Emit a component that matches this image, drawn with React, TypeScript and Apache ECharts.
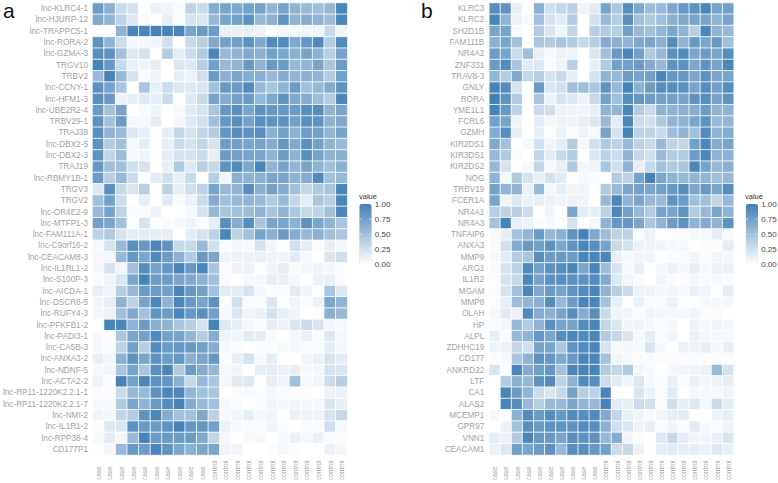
import React, { useEffect, useRef } from "react";
import * as echarts from "echarts";

const sampleLabels = [
  "case","case","case","case","case","case","case","case","case","case",
  "control","control","control","control","control","control","control","control","control","control","control","control",
];
const legendTicks = ["1.00", "0.75", "0.50", "0.25", "0.00"];

const genesA = [
  "lnc-KLRC4-1","lnc-HJURP-12","lnc-TRAPPC5-1","lnc-RORA-2","lnc-GZMA-3","TRGV10","TRBV2","lnc-CCNY-1","lnc-HFM1-3","lnc-UBE2R2-4",
  "TRBV29-1","TRAJ38","lnc-DBX2-5","lnc-DBX2-3","TRAJ19","lnc-RBMY1B-1","TRGV3","TRGV2","lnc-OR4E2-9","lnc-MTFP1-3",
  "lnc-FAM111A-1","lnc-C9orf16-2","lnc-CEACAM8-3","lnc-IL1RL1-2","lnc-S100P-3","lnc-AICDA-1","lnc-DSCR8-5","lnc-RUFY4-3","lnc-PFKFB1-2","lnc-PADI3-1",
  "lnc-CA5B-3","lnc-ANXA3-2","lnc-NDNF-5","lnc-ACTA2-2","lnc-RP11-1220K2.2.1-1","lnc-RP11-1220K2.2.1-7","lnc-NMI-2","lnc-IL1R1-2","lnc-RPP38-4","CD177P1",
];

const genesB = [
  "KLRC3","KLRC2","SH2D1B","FAM111B","NR4A2","ZNF331","TRAV8-3","GNLY","RORA","YME1L1",
  "FCRL6","GZMH","KIR2DS1","KIR3DS1","KIR2DS2","NOG","TRBV19","FCER1A","NR4A1","NR4A3",
  "TNFAIP6","ANXA3","MMP9","ARG1","IL1R2","MGAM","MMP8","OLAH","HP","ALPL",
  "ZDHHC19","CD177","ANKRD22","LTF","CA1","ALAS2","MCEMP1","GPR97","VNN1","CEACAM1",
];

// values in percent of the colour scale, one list per row
const valuesA = [
  [78,62,28,24,0,10,8,3,35,28,65,72,68,75,72,58,72,60,55,50,55,95],
  [68,58,35,18,3,0,12,3,22,20,55,72,75,85,55,62,85,60,65,60,52,95],
  [0,0,60,95,95,98,98,95,70,78,78,12,12,12,10,0,6,5,8,8,30,8],
  [85,60,28,6,6,8,25,0,30,38,68,75,75,85,68,92,92,68,82,92,40,92],
  [88,85,50,18,22,0,40,15,28,42,95,55,60,68,62,75,68,62,72,60,38,72],
  [98,80,30,12,8,12,0,20,18,38,75,55,60,80,60,80,78,55,58,70,45,78],
  [55,98,55,22,3,8,0,12,10,25,78,62,70,65,62,55,65,58,62,60,40,75],
  [85,72,45,0,45,12,28,18,18,20,50,80,78,92,55,45,60,78,50,55,65,85],
  [88,80,10,12,18,14,28,0,18,30,72,65,75,78,55,68,85,68,65,52,40,95],
  [78,48,72,0,4,8,0,4,15,22,45,82,88,72,85,82,80,78,90,90,60,70],
  [85,48,78,5,5,14,0,6,18,25,50,82,88,75,88,85,85,75,88,85,60,68],
  [88,60,55,18,12,0,14,32,22,32,40,82,90,85,88,62,75,62,78,75,58,72],
  [85,40,50,4,14,0,13,28,22,32,22,78,75,72,72,65,82,68,88,75,60,55],
  [85,32,52,4,8,0,14,22,22,28,12,78,75,72,70,60,78,60,88,72,60,62],
  [80,50,50,25,22,0,12,42,18,38,30,85,92,70,95,60,72,58,72,60,50,62],
  [78,38,55,28,0,15,25,12,30,0,38,7,62,60,62,70,72,60,65,92,50,55],
  [18,88,30,20,38,0,35,12,25,35,72,55,60,88,62,75,65,50,32,42,45,95],
  [50,75,28,0,12,0,15,3,10,28,65,50,55,58,55,42,55,32,15,45,38,95],
  [55,72,35,3,3,10,0,0,5,22,55,45,50,52,58,45,58,45,30,35,50,95],
  [75,70,50,0,22,0,3,5,8,3,14,88,65,90,45,70,70,62,85,70,60,45],
  [35,42,22,15,14,14,14,0,14,22,35,95,35,48,72,62,78,65,55,62,50,45],
  [4,22,55,88,80,95,85,30,30,55,25,3,6,4,22,8,0,25,15,3,12,6],
  [6,6,55,80,70,92,78,62,40,80,70,7,10,10,12,8,7,15,5,0,20,25],
  [6,22,8,50,90,72,82,95,82,95,45,2,10,10,0,8,14,3,6,8,6,3],
  [3,8,20,70,98,78,78,70,68,62,50,2,0,4,5,12,10,5,0,10,12,3],
  [14,8,38,55,78,78,75,95,80,75,50,15,15,22,6,2,2,15,7,0,45,18],
  [7,14,60,35,72,95,60,95,80,72,85,3,25,3,3,20,0,8,3,10,70,60],
  [6,10,50,68,50,85,78,95,82,88,75,4,20,8,10,22,13,8,0,2,62,55],
  [0,98,95,60,78,62,60,45,38,22,98,18,12,5,2,12,10,20,28,20,6,4],
  [5,2,45,70,75,92,75,72,58,40,65,8,7,15,13,3,0,6,10,3,18,5],
  [5,2,35,75,38,92,80,82,80,75,65,4,2,0,2,2,4,5,2,2,14,5],
  [12,7,62,85,70,85,78,82,62,70,80,2,12,22,4,13,0,0,7,10,22,15],
  [4,7,45,72,45,88,95,42,78,65,55,5,7,0,14,14,10,12,4,6,22,20],
  [10,2,98,75,95,85,82,62,30,55,45,6,17,18,0,13,8,50,4,7,28,38],
  [2,2,28,55,55,85,95,95,58,50,45,0,3,3,2,6,3,3,2,0,10,10],
  [4,5,42,70,60,80,92,98,65,55,50,4,3,0,2,7,6,7,5,5,20,12],
  [8,6,32,40,85,95,65,50,50,68,35,4,7,13,6,8,0,10,8,8,22,30],
  [2,18,20,85,80,78,85,98,82,82,75,10,4,3,2,7,2,0,2,2,25,5],
  [4,15,6,55,98,78,80,78,78,68,32,6,0,4,5,0,4,10,5,10,3,3],
  [1,6,55,80,78,95,85,70,62,70,70,7,7,0,0,2,5,2,0,0,10,6],
];

const valuesB = [
  [90,85,12,0,62,25,32,35,8,15,72,45,90,68,52,55,70,80,85,95,72,75],
  [95,60,10,4,50,22,15,40,0,25,55,40,88,50,42,50,62,68,70,72,60,72],
  [70,72,4,0,40,20,8,32,0,38,42,38,75,55,50,58,70,60,38,95,60,55],
  [62,72,50,0,45,40,45,40,30,38,65,62,60,68,72,62,90,60,80,70,80,50],
  [78,72,28,50,12,4,10,10,0,20,50,80,95,75,42,55,85,92,70,78,70,90],
  [78,92,45,15,18,3,8,38,0,12,42,75,75,78,65,55,85,85,70,85,72,95],
  [58,40,68,30,38,22,30,12,0,22,60,55,78,72,75,95,82,82,70,85,70,72],
  [98,90,22,0,78,20,25,50,52,45,85,55,98,62,78,90,90,88,72,90,75,90],
  [100,85,42,0,45,10,22,18,10,30,75,50,90,82,78,75,75,72,85,90,72,85],
  [98,80,35,0,28,25,10,8,8,12,60,58,95,40,30,60,60,62,65,78,60,60],
  [75,72,10,0,14,5,8,8,12,18,55,15,95,28,25,42,58,60,72,85,55,58],
  [65,88,13,0,12,0,10,2,8,4,72,22,98,35,35,28,52,60,50,92,60,65],
  [68,50,0,4,25,8,14,40,5,25,42,35,55,35,30,55,35,32,75,95,65,72],
  [55,42,2,0,32,15,30,42,0,20,35,28,60,30,25,55,40,42,78,95,60,62],
  [55,22,0,4,32,4,12,42,6,8,45,25,60,12,30,50,42,45,95,72,55,62],
  [60,5,42,22,12,22,16,0,5,3,0,40,35,72,98,70,60,55,58,58,50,55],
  [75,58,60,12,55,6,13,8,8,0,42,55,70,75,70,75,80,90,70,80,70,90],
  [72,8,18,10,12,10,8,10,8,0,55,95,60,72,55,55,85,78,50,50,32,55],
  [38,35,38,28,0,8,0,70,15,12,35,95,75,55,40,72,70,85,40,55,70,60],
  [48,98,12,10,3,4,2,22,0,6,60,82,80,70,45,60,78,85,60,65,60,85],
  [4,12,48,58,78,55,62,85,98,68,52,35,35,3,10,0,3,3,5,4,15,3],
  [3,25,65,80,75,85,70,85,95,90,72,30,22,10,8,7,5,5,0,2,3,13],
  [4,15,40,45,88,78,80,78,95,95,95,12,4,7,8,0,3,3,7,3,7,5],
  [3,22,35,92,75,85,90,95,70,95,52,22,4,12,0,5,10,5,12,5,10,10],
  [2,22,30,95,72,85,88,88,85,92,68,20,8,3,0,7,3,2,6,3,5,3],
  [2,22,50,95,68,78,72,85,92,95,60,38,28,10,10,5,7,4,10,7,0,14],
  [2,12,52,58,62,90,55,78,95,95,48,12,0,10,3,3,10,0,0,5,5,6],
  [5,15,10,92,65,62,72,90,65,90,30,8,7,3,7,6,6,6,8,2,3,0],
  [2,6,55,40,60,88,72,72,92,95,32,20,7,8,5,3,5,0,8,5,8,6],
  [12,3,55,60,82,72,90,95,92,95,42,32,20,5,13,3,7,0,10,5,5,5],
  [8,10,32,25,72,72,45,85,92,95,22,5,6,5,20,5,0,10,10,12,6,12],
  [2,4,45,60,85,82,68,80,95,95,48,8,4,3,3,3,3,2,2,2,2,2],
  [20,2,95,65,75,82,48,95,95,98,42,32,40,7,4,0,6,7,7,10,55,22],
  [0,40,62,55,85,92,35,60,92,90,28,15,8,20,5,3,12,3,10,6,10,12],
  [0,95,78,60,28,20,30,75,38,35,98,0,0,20,10,3,15,0,5,5,5,8],
  [0,98,90,55,38,55,55,70,58,55,98,15,12,28,25,3,25,12,18,5,28,15],
  [5,1,62,92,78,90,80,92,90,92,68,32,12,8,3,7,13,15,0,0,8,12],
  [0,10,50,88,78,85,85,85,92,90,62,25,20,8,12,3,8,3,15,5,3,8],
  [13,10,40,95,82,80,72,90,85,85,55,65,7,3,0,18,30,15,7,7,12,20],
  [10,18,75,72,78,85,55,90,88,80,75,28,30,10,0,15,15,13,13,10,18,12],
];

const textGrey = "#a2a2a2";
const fontFamily = "'Liberation Sans', Arial, sans-serif";

function toCells(rows: number[][]) {
  const cells: number[][] = [];
  rows.forEach((row, y) => row.forEach((v, x) => cells.push([x, y, v / 100])));
  return cells;
}

function panelAxes(index: number, genes: string[], labelMargin: number) {
  return {
    x: {
      type: "category",
      gridIndex: index,
      data: sampleLabels,
      axisLine: { show: false },
      axisTick: { show: false },
      splitLine: { show: false },
      axisLabel: { interval: 0, rotate: 90, align: "left", margin: 25, fontSize: 6.5, color: textGrey, fontFamily },
    },
    y: {
      type: "category",
      gridIndex: index,
      inverse: true,
      data: genes,
      axisLine: { show: false },
      axisTick: { show: false },
      splitLine: { show: false },
      axisLabel: { interval: 0, fontSize: 8.2, margin: labelMargin, color: textGrey, fontFamily },
    },
  };
}

function legendGraphic(barX: number, titleX: number) {
  const top = 204;
  const step = 15;
  const items: any[] = [
    { type: "text", x: titleX, y: 192, style: { text: "value", fontSize: 7.5, fill: "#333", fontFamily } },
  ];
  legendTicks.forEach((t, i) => {
    items.push({
      type: "text",
      x: barX + 15.5,
      y: top + i * step - 4,
      style: { text: t, fontSize: 8, fill: "#444", fontFamily },
    });
    if (i > 0 && i < legendTicks.length - 1) {
      items.push({ type: "line", shape: { x1: barX, y1: top + i * step, x2: barX + 2.5, y2: top + i * step }, style: { stroke: "#fff", lineWidth: 0.6 }, z: 20 });
      items.push({ type: "line", shape: { x1: barX + 9.9, y1: top + i * step, x2: barX + 12.4, y2: top + i * step }, style: { stroke: "#fff", lineWidth: 0.6 }, z: 20 });
    }
  });
  return items;
}

export default function App() {
  const ref = useRef<HTMLDivElement>(null);

  useEffect(() => {
    const chart = echarts.init(ref.current!, undefined, { renderer: "svg" });
    const a = panelAxes(0, genesA, 4.5);
    const b = panelAxes(1, genesB, 5);
    const scale = { min: 0, max: 1, inRange: { color: ["#ffffff", "#4280b6"] }, calculable: false, orient: "vertical", itemWidth: 12.4, itemHeight: 60, top: 204, padding: 0 };
    chart.setOption({
      animation: false,
      backgroundColor: "#ffffff",
      textStyle: { fontFamily },
      grid: [
        { left: 90.7, top: 3, width: 256.7, height: 454, containLabel: false },
        { left: 489.3, top: 3, width: 244.4, height: 454, containLabel: false },
      ],
      xAxis: [a.x, b.x],
      yAxis: [a.y, b.y],
      visualMap: [
        { ...scale, seriesIndex: 0, left: 359.3 },
        { ...scale, seriesIndex: 1, left: 745.7 },
      ],
      series: [
        { type: "heatmap", xAxisIndex: 0, yAxisIndex: 0, data: toCells(valuesA), itemStyle: { borderColor: "#ffffff", borderWidth: 0.8 } },
        { type: "heatmap", xAxisIndex: 1, yAxisIndex: 1, data: toCells(valuesB), itemStyle: { borderColor: "#ffffff", borderWidth: 0.8 } },
      ],
      graphic: [
        { type: "text", x: 3, y: 0, style: { text: "a", fontSize: 21, fill: "#111", fontFamily } },
        { type: "text", x: 421, y: 0, style: { text: "b", fontSize: 21, fill: "#111", fontFamily } },
        ...legendGraphic(359.3, 359),
        ...legendGraphic(745.7, 745),
      ],
    });
    return () => chart.dispose();
  }, []);

  return <div ref={ref} style={{ position: "absolute", left: 0, top: 0, width: 778, height: 483 }} />;
}
